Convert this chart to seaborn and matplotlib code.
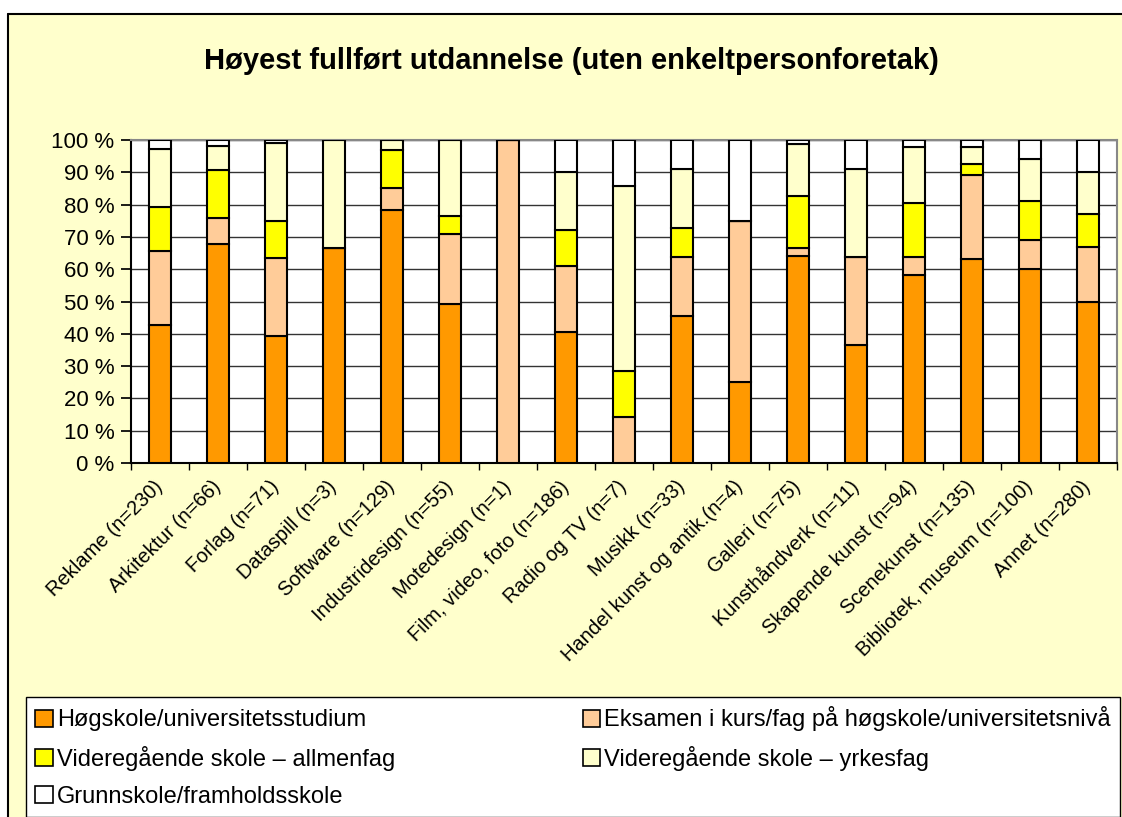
import matplotlib
matplotlib.use("Agg")
import matplotlib.pyplot as plt
import matplotlib.transforms as mtransforms
import seaborn as sns
import pandas as pd
import numpy as np
from matplotlib.patches import Patch, Rectangle

categories = ["Reklame (n=230)", "Arkitektur (n=66)", "Forlag (n=71)", "Dataspill (n=3)",
              "Software (n=129)", "Industridesign (n=55)", "Motedesign (n=1)",
              "Film, video, foto (n=186)", "Radio og TV (n=7)", "Musikk (n=33)",
              "Handel kunst og antik.(n=4)", "Galleri (n=75)", "Kunsthåndverk (n=11)",
              "Skapende kunst (n=94)", "Scenekunst (n=135)", "Bibliotek, museum (n=100)",
              "Annet (n=280)"]

hogskole = [42.8, 67.8, 39.4, 66.7, 78.2, 49.2, 0.0, 40.5, 0.0, 45.5, 25.0, 64.0, 36.4, 58.2, 63.3, 60.0, 49.7]
eksamen = [22.9, 8.1, 24.0, 0.0, 6.9, 21.6, 100.0, 20.5, 14.3, 18.2, 50.0, 2.7, 27.3, 5.7, 25.8, 9.0, 17.1]
allmenfag = [13.6, 14.8, 11.4, 0.0, 11.9, 5.7, 0.0, 11.0, 14.3, 9.1, 0.0, 16.0, 0.0, 16.7, 3.4, 12.0, 10.4]
yrkesfag = [17.8, 7.5, 24.2, 33.3, 3.0, 23.5, 0.0, 18.2, 57.1, 18.2, 0.0, 16.0, 27.3, 17.1, 5.2, 13.0, 13.0]
grunnskole = [2.9, 1.8, 1.0, 0.0, 0.0, 0.0, 0.0, 9.8, 14.3, 9.0, 25.0, 1.3, 9.0, 2.3, 2.3, 6.0, 9.8]

series_names = ["Høgskole/universitetsstudium", "Eksamen i kurs/fag på høgskole/universitetsnivå",
                "Videregående skole – allmenfag", "Videregående skole – yrkesfag",
                "Grunnskole/framholdsskole"]
series_values = [hogskole, eksamen, allmenfag, yrkesfag, grunnskole]
colors = ["#FF9900", "#FFCC99", "#FFFF00", "#FFFFCC", "#FFFFFF"]
ytick_labels = ["0 %", "10 %", "20 %", "30 %", "40 %", "50 %", "60 %", "70 %", "80 %", "90 %", "100 %"]

sns.set_theme(style="white")
plt.rcParams["font.family"] = ["Liberation Sans", "DejaVu Sans"]
plt.rcParams["text.color"] = "black"
plt.rcParams["xtick.color"] = "black"
plt.rcParams["ytick.color"] = "black"
plt.rcParams["axes.labelcolor"] = "black"

W, H = 1122, 817
fig = plt.figure(figsize=(W / 100, H / 100), dpi=100)
fig.patch.set_facecolor("white")
# chart area background (yellow) with black left/top border
fig.patches.append(Rectangle((8 / W, 0), 1 - 8 / W, 1 - 14 / H, transform=fig.transFigure,
                             facecolor="#FFFFCC", edgecolor="none", zorder=-5))
fig.lines.append(plt.Line2D([8 / W, 8 / W], [0, 1 - 14 / H], transform=fig.transFigure,
                            color="black", linewidth=1.5, zorder=-4))
fig.lines.append(plt.Line2D([8 / W, 1], [1 - 14 / H, 1 - 14 / H], transform=fig.transFigure,
                            color="black", linewidth=1.5, zorder=-4))

ax = fig.add_axes([131 / W, 1 - 463 / H, (1117 - 131) / W, (463 - 140) / H])
ax.set_facecolor("white")

bottom = np.zeros(len(categories))
for name, vals, col in zip(series_names, series_values, colors):
    df = pd.DataFrame({"cat": categories, "val": vals})
    sns.barplot(data=df, x="cat", y="val", color=col, bottom=bottom, width=0.37,
                edgecolor="black", linewidth=1.5, saturation=1, ax=ax, zorder=3)
    bottom = bottom + np.array(vals)

ax.set_ylim(0, 100)
ax.set_xlim(-0.5, len(categories) - 0.5)
ax.set_yticks(np.arange(0, 101, 10))
ax.set_yticklabels(ytick_labels, fontsize=16)
ax.yaxis.grid(True, color="#333333", linewidth=1.0, zorder=0)
ax.set_axisbelow(True)
ax.set_xlabel("")
ax.set_ylabel("")
ax.set_xticks(np.arange(len(categories)))
ax.set_xticklabels(categories, rotation=45, ha="right", va="center",
                   rotation_mode="anchor", fontsize=14.5)
shift = mtransforms.ScaledTranslation(-6 / 100, 2 / 100, fig.dpi_scale_trans)
for lbl in ax.get_xticklabels():
    lbl.set_transform(lbl.get_transform() + shift)
ax.set_xticks(np.arange(-0.5, len(categories), 1), minor=True)
ax.tick_params(axis="x", which="major", length=0, pad=15)
ax.tick_params(axis="x", which="minor", length=5, color="black", direction="out", bottom=True)
ax.tick_params(axis="y", length=7, color="black", direction="out", left=True, pad=5)
for s in ["left", "bottom"]:
    ax.spines[s].set_color("black")
    ax.spines[s].set_linewidth(1.5)
for s in ["top", "right"]:
    ax.spines[s].set_color("#888888")
    ax.spines[s].set_linewidth(1.5)

fig.text(571 / W, 1 - 61 / H, "Høyest fullført utdannelse (uten enkeltpersonforetak)",
         ha="center", va="center", fontsize=21, fontweight="bold", color="black")

handles = [Patch(facecolor=c, edgecolor="black", linewidth=1.2) for c in colors]
order = [0, 2, 4, 1, 3]
leg = fig.legend([handles[i] for i in order], [series_names[i] for i in order],
                 loc="upper left",
                 bbox_to_anchor=(26 / W, 1 - 697 / H, (1120 - 26) / W, 0),
                 mode="expand", ncol=2, fontsize=17, frameon=True, fancybox=False,
                 edgecolor="black", facecolor="white", framealpha=1,
                 handlelength=0.75, handleheight=0.75, handletextpad=0.15,
                 labelspacing=0.62, borderaxespad=0, borderpad=0.4, columnspacing=1.0)
leg.get_frame().set_linewidth(1.0)
for t in leg.get_texts():
    t.set_color("black")

fig.savefig("out.png", dpi=100, facecolor=fig.get_facecolor())
